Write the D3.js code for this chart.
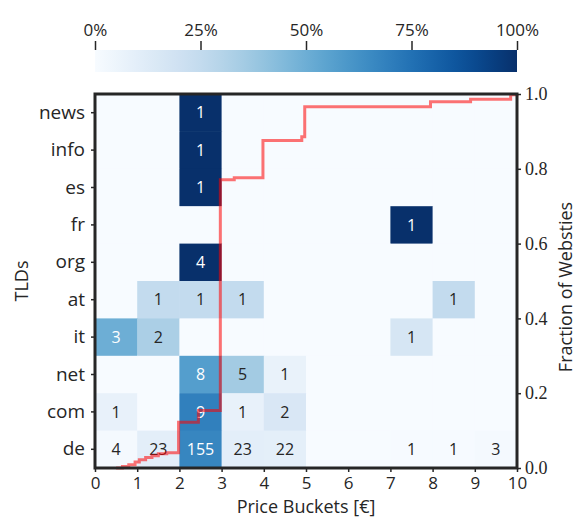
<!DOCTYPE html>
<html>
  <head>
    <meta charset="UTF-8" />
    <script src="https://cdn.jsdelivr.net/npm/d3@7" type="text/JavaScript"></script>
    <style>
      body { margin: 0; background: #fff; }
      text { font-family: "Open Sans", Lato, sans-serif; fill: #262626; }
    </style>
  </head>
  <body>
    <svg id="chart" width="576" height="520"></svg>
    <script>
      // TLD rows, top to bottom
      const tlds = ["news", "info", "es", "fr", "org", "at", "it", "net", "com", "de"];
      // price buckets 0-1, 1-2, ... 9-10 EUR
      const buckets = [0, 1, 2, 3, 4, 5, 6, 7, 8, 9];
      const countsNews = [0, 0, 1, 0, 0, 0, 0, 0, 0, 0];
      const countsInfo = [0, 0, 1, 0, 0, 0, 0, 0, 0, 0];
      const countsEs = [0, 0, 1, 0, 0, 0, 0, 0, 0, 0];
      const countsFr = [0, 0, 0, 0, 0, 0, 0, 1, 0, 0];
      const countsOrg = [0, 0, 4, 0, 0, 0, 0, 0, 0, 0];
      const countsAt = [0, 1, 1, 1, 0, 0, 0, 0, 1, 0];
      const countsIt = [3, 2, 0, 0, 0, 0, 0, 1, 0, 0];
      const countsNet = [0, 0, 8, 5, 1, 0, 0, 0, 0, 0];
      const countsCom = [1, 0, 9, 1, 2, 0, 0, 0, 0, 0];
      const countsDe = [4, 23, 155, 23, 22, 0, 0, 1, 1, 3];
      const counts = [countsNews, countsInfo, countsEs, countsFr, countsOrg,
        countsAt, countsIt, countsNet, countsCom, countsDe];

      // cumulative fraction of websites by price (step line)
      const cdfPrice = [0.5, 0.65, 0.8, 0.95, 1.05, 1.2, 1.35, 1.5, 1.7, 1.98, 2.45, 2.97,
        3.3, 3.98, 4.9, 4.97, 7.95, 8.9, 9.85, 10];
      const cdfFrac = [0.0, 0.004, 0.009, 0.016, 0.022, 0.028, 0.033, 0.038, 0.041, 0.122,
        0.154, 0.771, 0.776, 0.876, 0.886, 0.966, 0.979, 0.986, 0.998, 1.0];

      const xTicks = [0, 1, 2, 3, 4, 5, 6, 7, 8, 9, 10];
      const fracTicks = [0, 0.2, 0.4, 0.6, 0.8, 1.0];
      const cbarTicks = [0, 0.25, 0.5, 0.75, 1.0];

      const mLeft = 95, mRight = 517, mTop = 94, mBottom = 468;
      const svg = d3.select("#chart");
      const dark = "#262626";

      const x = d3.scaleLinear().domain([0, 10]).range([mLeft, mRight]);
      const y = d3.scaleBand().domain(tlds).range([mTop, mBottom]);
      const yFrac = d3.scaleLinear().domain([0, 1]).range([mBottom, mTop]);
      const color = d3.scaleSequential(d3.interpolateBlues).domain([0, 1]);

      // cells, normalised per row
      const cells = [];
      counts.forEach((row, i) => {
        const total = d3.sum(row);
        row.forEach((c, j) => cells.push({ tld: tlds[i], b: buckets[j], count: c, share: c / total }));
      });

      svg.append("rect")
        .attr("x", mLeft).attr("y", mTop)
        .attr("width", mRight - mLeft).attr("height", mBottom - mTop)
        .attr("fill", color(0));

      svg.selectAll("rect.cell")
        .data(cells)
        .enter()
        .append("rect")
        .attr("class", "cell")
        .attr("x", d => x(d.b))
        .attr("y", d => y(d.tld))
        .attr("width", x(1) - x(0) + 0.5)
        .attr("height", y.bandwidth() + 0.5)
        .attr("fill", d => color(d.share));

      svg.selectAll("text.cell")
        .data(cells.filter(d => d.count > 0))
        .enter()
        .append("text")
        .attr("class", "cell")
        .attr("x", d => x(d.b + 0.5))
        .attr("y", d => y(d.tld) + y.bandwidth() / 2)
        .attr("dy", "0.36em")
        .attr("text-anchor", "middle")
        .style("font-size", "16px")
        .style("fill", d => (d.share >= 0.45 ? "#ffffff" : dark))
        .text(d => d.count);

      // cdf line
      const cdfLine = d3.line()
        .x((d, i) => x(cdfPrice[i]))
        .y(d => yFrac(d))
        .curve(d3.curveStepAfter);
      svg.append("path")
        .attr("d", cdfLine(cdfFrac))
        .attr("fill", "none")
        .attr("stroke", "rgb(255,0,0)")
        .attr("stroke-opacity", 0.55)
        .attr("stroke-width", 3);

      // axes
      const xAxis = svg.append("g")
        .attr("transform", `translate(0,${mBottom})`)
        .call(d3.axisBottom(x).tickValues(xTicks).tickFormat(d3.format("d")).tickSize(4).tickPadding(5));
      const yAxis = svg.append("g")
        .attr("transform", `translate(${mLeft},0)`)
        .call(d3.axisLeft(y).tickSize(4).tickPadding(6));
      const rAxis = svg.append("g")
        .attr("transform", `translate(${mRight},0)`)
        .call(d3.axisRight(yFrac).tickValues(fracTicks).tickFormat(d3.format(".1f")).tickSize(4).tickPadding(4));

      [xAxis, yAxis, rAxis].forEach(g => {
        g.select(".domain").remove();
        g.selectAll(".tick line").attr("stroke", dark).attr("stroke-width", 1.5);
        g.selectAll(".tick text").style("fill", dark);
      });
      xAxis.selectAll(".tick text").style("font-size", "17px");
      yAxis.selectAll(".tick text").style("font-size", "19px");
      rAxis.selectAll(".tick text")
        .style("font-family", "'Liberation Serif', serif")
        .style("font-size", "18px");

      // frame
      svg.append("rect")
        .attr("x", mLeft).attr("y", mTop)
        .attr("width", mRight - mLeft).attr("height", mBottom - mTop)
        .attr("fill", "none")
        .attr("stroke", dark)
        .attr("stroke-width", 3);

      svg.append("text")
        .attr("x", (mLeft + mRight) / 2).attr("y", 513)
        .attr("text-anchor", "middle")
        .style("font-size", "18px")
        .text("Price Buckets [€]");

      svg.append("text")
        .attr("transform", `translate(28,${(mTop + mBottom) / 2}) rotate(-90)`)
        .attr("text-anchor", "middle")
        .style("font-size", "18px")
        .text("TLDs");

      svg.append("text")
        .attr("transform", `translate(572,${(mTop + mBottom) / 2 + 6}) rotate(-90)`)
        .attr("text-anchor", "middle")
        .style("font-size", "18px")
        .text("Fraction of Websties");

      // colorbar
      const cx = d3.scaleLinear().domain([0, 1]).range([mLeft, mRight]);
      const grad = svg.append("defs").append("linearGradient").attr("id", "blues");
      d3.range(0, 1.001, 0.05).forEach(t => {
        grad.append("stop").attr("offset", t).attr("stop-color", color(t));
      });
      svg.append("rect")
        .attr("x", mLeft).attr("y", 50)
        .attr("width", mRight - mLeft).attr("height", 22)
        .attr("fill", "url(#blues)");
      const cAxis = svg.append("g")
        .attr("transform", "translate(0,50)")
        .call(d3.axisTop(cx).tickValues(cbarTicks).tickFormat(d3.format(".0%")).tickSize(9).tickPadding(5));
      cAxis.select(".domain").remove();
      cAxis.selectAll(".tick line").attr("stroke", dark).attr("stroke-width", 1.5);
      cAxis.selectAll(".tick text").style("font-size", "17px").style("fill", dark);
    </script>
  </body>
</html>
